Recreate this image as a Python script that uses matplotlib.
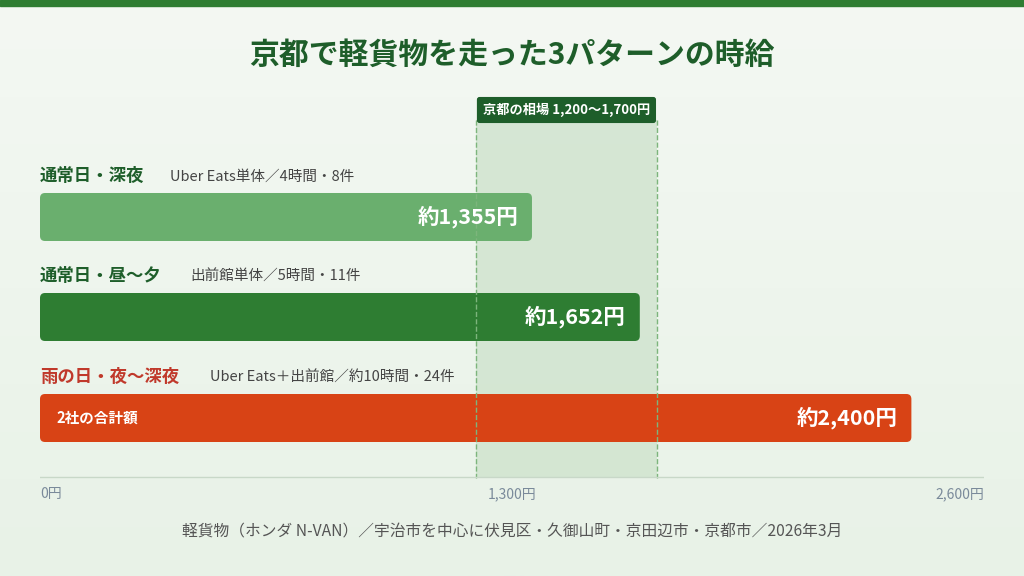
import matplotlib
matplotlib.use("Agg")
import matplotlib.pyplot as plt
from matplotlib.patches import FancyBboxPatch, Rectangle
import numpy as np

plt.rcParams['font.family'] = ['Noto Sans CJK JP', 'DejaVu Sans']

title = "京都で軽貨物を走った3パターンの時給"
names = ["通常日・深夜", "通常日・昼〜夕", "雨の日・夜〜深夜"]
subs = ["Uber Eats単体／4時間・8件", "出前館単体／5時間・11件", "Uber Eats＋出前館／約10時間・24件"]
values = [1355, 1652, 2400]
value_labels = ["約1,355円", "約1,652円", "約2,400円"]
colors = ["#6aaf6e", "#2e7d32", "#d84315"]
name_colors = ["#1e5e2a", "#1e5e2a", "#c0392b"]
band = (1200, 1700)
band_label = "京都の相場 1,200〜1,700円"
ticks = [0, 1300, 2600]
tick_labels = ["0円", "1,300円", "2,600円"]
note = "軽貨物（ホンダ N-VAN）／宇治市を中心に伏見区・久御山町・京田辺市・京都市／2026年3月"

W, H = 1024, 576
fig = plt.figure(figsize=(W/100, H/100), dpi=100)
bg = fig.add_axes([0, 0, 1, 1])
grad = np.linspace(0, 1, 256).reshape(-1, 1)
bg.imshow(grad, extent=[0, 1, 0, 1], cmap=matplotlib.colors.LinearSegmentedColormap.from_list("g", ["#f4f8f3", "#e8f2e7"]), aspect='auto')
bg.add_patch(Rectangle((0, 1-6/H), 1, 6/H, color="#2e7d32", transform=bg.transAxes))
bg.axis('off')

x0, x1 = 40, 984
ax = fig.add_axes([x0/W, 0, (x1-x0)/W, 1])
ax.set_xlim(0, 2600)
ax.set_ylim(H, 0)
ax.axis('off')
ax.patch.set_alpha(0)
sx = (x1-x0)/2600

ax.add_patch(Rectangle((band[0], 120), band[1]-band[0], 358, facecolor="#cfe3cd", alpha=0.8, edgecolor="none"))
for b in band:
    ax.plot([b, b], [120, 478], ls="--", color="#7db57c", lw=1)
bm = (band[0]+band[1])/2
ax.text(bm, 110, band_label, ha="center", va="center", color="white", fontsize=9.5, fontweight="bold",
        bbox=dict(boxstyle="round,pad=0.45,rounding_size=0.2", fc="#1e5e2a", ec="none"))

ycent = [217, 317, 418]
bh = 48
for i, v in enumerate(values):
    y = ycent[i]
    ax.add_patch(FancyBboxPatch((0, y-bh/2), v, bh, boxstyle="round,pad=0,rounding_size=%f" % (5/sx),
                                mutation_aspect=sx, fc=colors[i], ec="none"))
    ax.text(v - 14/sx, y, value_labels[i], ha="right", va="center", color="white", fontsize=15.5, fontweight="bold")
    ax.text(0, y-41, names[i], ha="left", va="center", color=name_colors[i], fontsize=12.5, fontweight="bold")
    off = [130, 150, 170][i]
    ax.text(off/sx, y-40, subs[i], ha="left", va="center", color="#444444", fontsize=10.5)
ax.text(16/sx, ycent[2], "2社の合計額", ha="left", va="center", color="white", fontsize=10.5, fontweight="bold")

ax.plot([0, 2600], [477, 477], color="#c8d8c8", lw=1)
for t, l in zip(ticks, tick_labels):
    ha = "left" if t == 0 else ("right" if t == 2600 else "center")
    ax.text(t, 494, l, ha=ha, va="center", color="#7a8a9a", fontsize=10)

fig.text(0.5, 1-55/H, title, ha="center", va="center", color="#1e5e2a", fontsize=21.5, fontweight="bold")
fig.text(0.5, 1-532/H, note, ha="center", va="center", color="#555555", fontsize=11.3)

fig.savefig("out.png", dpi=100)
